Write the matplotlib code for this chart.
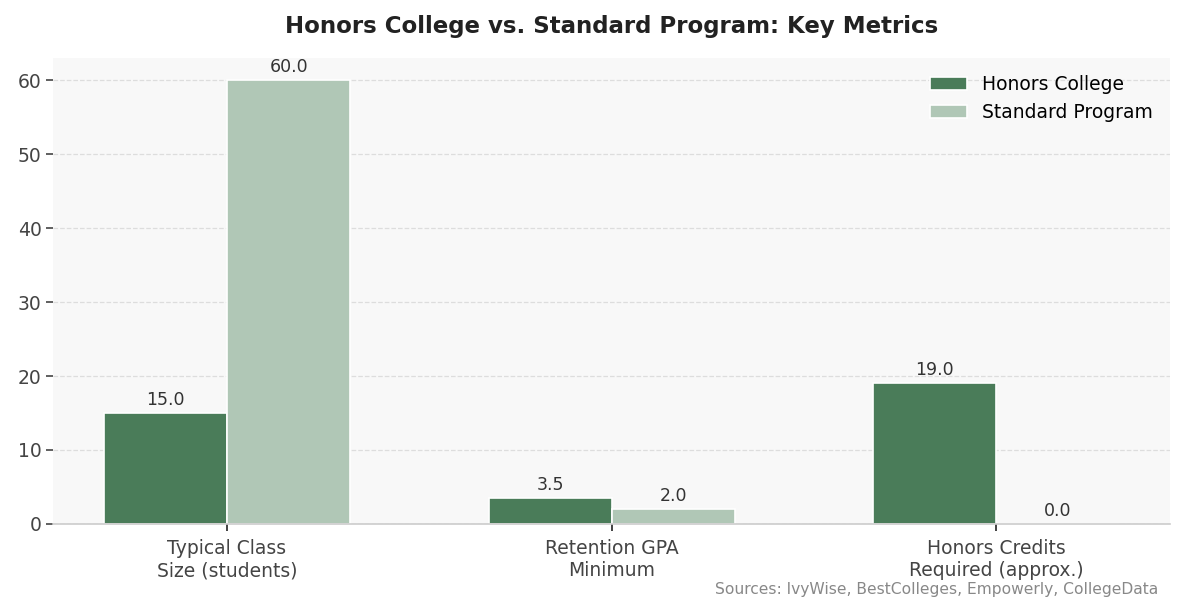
import numpy as np
import matplotlib
import matplotlib.pyplot as plt

matplotlib.use("Agg")

categories = ["Typical Class\nSize (students)", "Retention GPA\nMinimum", "Honors Credits\nRequired (approx.)"]
honors = [15.0, 3.5, 19.0]
standard = [60.0, 2.0, 0.0]

dark_green = "#4a7c59"
light_green = "#b0c7b6"

fig, ax = plt.subplots(figsize=(11.84, 6.12), dpi=100)
ax.set_facecolor("#f8f8f8")

x = np.arange(len(categories))
width = 0.32

b1 = ax.bar(x - width / 2, honors, width, color=dark_green, edgecolor="white", linewidth=1.2, label="Honors College")
b2 = ax.bar(x + width / 2, standard, width, color=light_green, edgecolor="white", linewidth=1.2, label="Standard Program")

for bars in (b1, b2):
    for bar in bars:
        h = bar.get_height()
        ax.annotate(f"{h:.1f}", (bar.get_x() + bar.get_width() / 2, h),
                    xytext=(0, 3), textcoords="offset points",
                    ha="center", va="bottom", fontsize=12.5, color="#333333")

ax.set_xticks(x)
ax.set_xticklabels(categories, fontsize=13.5, color="#444444")
ax.tick_params(axis="x", length=5, width=1.2, color="#222222", pad=6)
ax.tick_params(axis="y", labelsize=13.5, labelcolor="#444444", length=5, width=1.2, color="#444444")
ax.set_ylim(0, 63)

ax.grid(axis="y", linestyle="--", color="#dddddd", linewidth=0.9)
ax.set_axisbelow(True)
for side in ("top", "right", "left"):
    ax.spines[side].set_visible(False)
ax.spines["bottom"].set_color("#cccccc")
ax.spines["bottom"].set_linewidth(1.2)

ax.set_title("Honors College vs. Standard Program: Key Metrics", fontsize=16.5,
             fontweight="bold", color="#222222", pad=18)
ax.legend(frameon=False, fontsize=13.5, loc="upper right")

fig.text(0.978, 0.025, "Sources: IvyWise, BestColleges, Empowerly, CollegeData",
         ha="right", va="bottom", fontsize=11.2, color="#888888")

plt.subplots_adjust(left=0.045, right=0.988, top=0.905, bottom=0.144)
plt.savefig("out.png", dpi=100)
plt.close()
